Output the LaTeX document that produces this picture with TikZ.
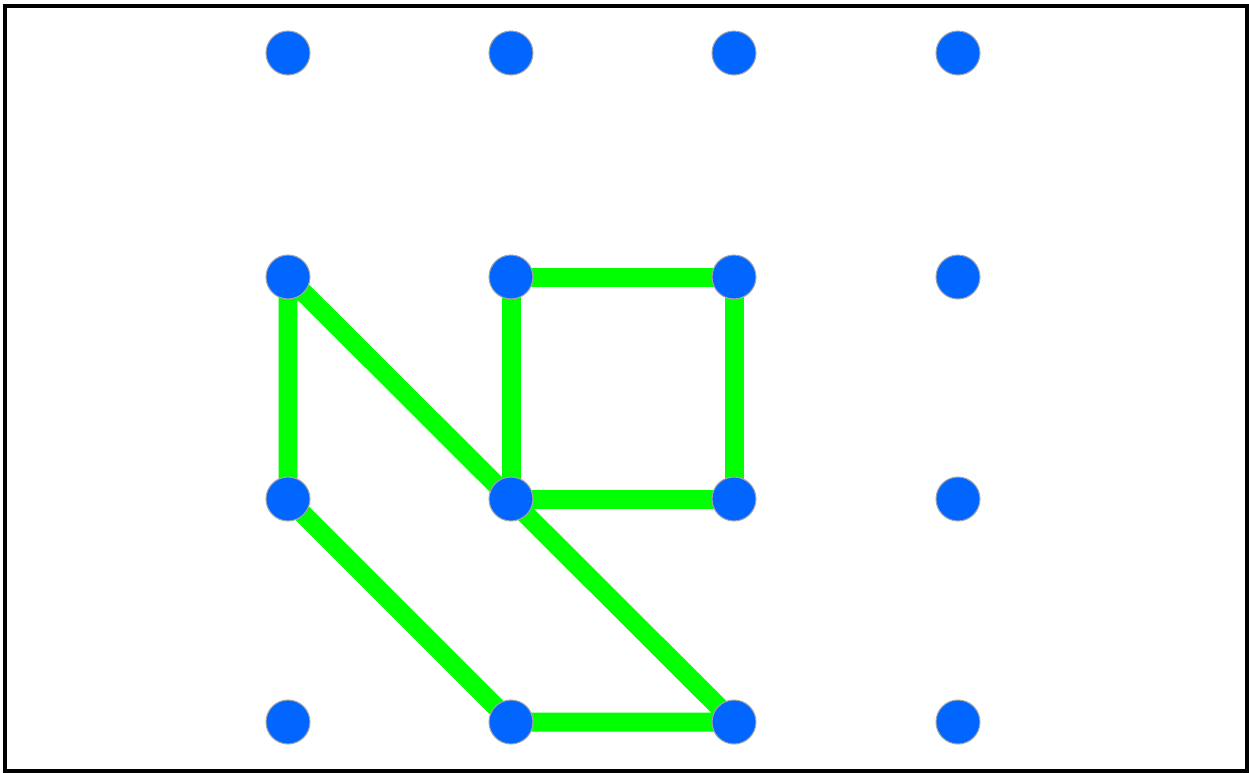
\documentclass[tikz,border=0pt]{standalone}
\usetikzlibrary{backgrounds}
\definecolor{dotblue}{RGB}{0,102,255}
\definecolor{linegreen}{RGB}{0,255,0}
\tikzset{
  dot/.style={circle, fill=dotblue, draw=gray!70, line width=0.6pt, inner sep=0pt, minimum size=0.88cm},
  edge/.style={linegreen, line width=0.38cm, line join=round}
}
\begin{document}
\begin{tikzpicture}[x=0.02cm, y=-0.02cm]
    \useasboundingbox (0,0) rectangle (1249,772);
    % Rahmen
    \draw[line width=0.08cm] (5,6) rectangle (1247,770.5);

    % Punkte
    \foreach \i/\x in {1/288,2/511,3/734,4/958}
      \foreach \j/\y in {1/53,2/277,3/499,4/722}
        \node[dot] (d\i\j) at (\x,\y) {};

    % Linien
    \begin{scope}[on background layer]
      \draw[edge] (d12.center) -- (d13.center) -- (d24.center) -- (d34.center) -- (d12.center);
      \draw[edge] (d22.center) -- (d32.center) -- (d33.center) -- (d23.center) -- cycle;
    \end{scope}
\end{tikzpicture}
\end{document}
